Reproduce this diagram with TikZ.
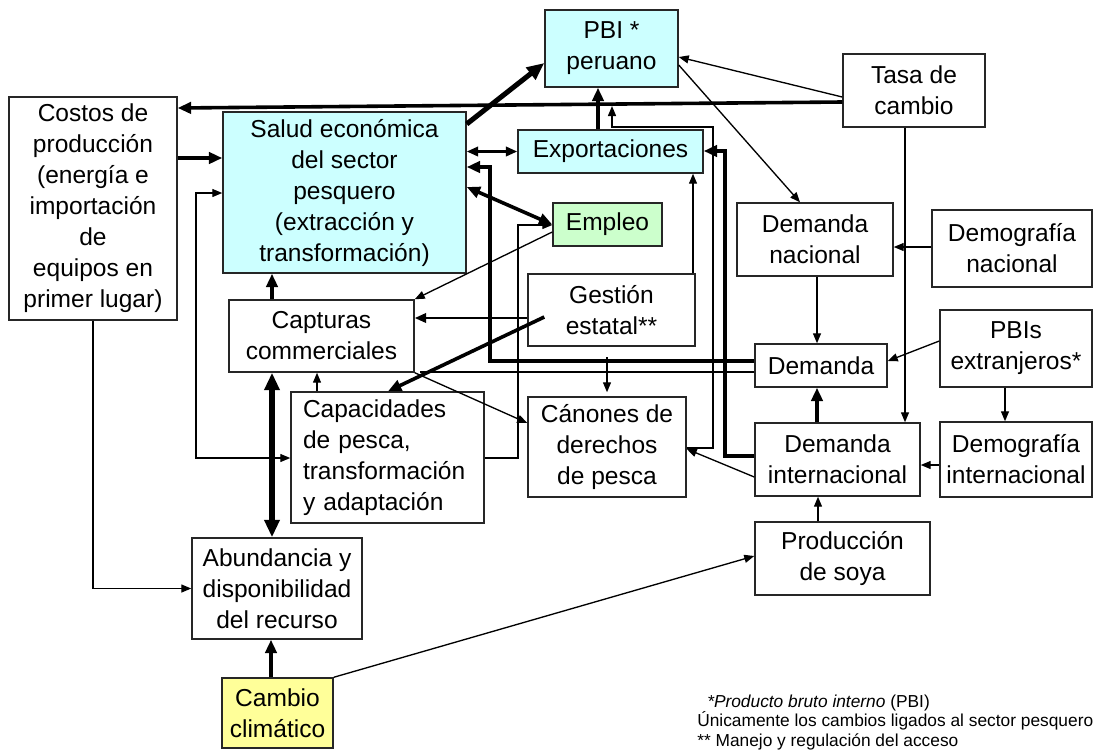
\documentclass[tikz,border=0pt]{standalone}
\usepackage{fontspec}
\setmainfont{Liberation Sans}
\usetikzlibrary{arrows.meta,calc}
\definecolor{cyanbox}{HTML}{CCFFFF}
\definecolor{greenbox}{HTML}{CCFFCC}
\definecolor{yellowbox}{HTML}{FFFF99}
\newcommand{\boxfont}{\fontsize{18.4}{23.25}\selectfont}
\newcommand{\notefont}{\fontsize{13}{14.5}\selectfont}

\begin{document}
\begin{tikzpicture}[x=0.75pt,y=-0.75pt,
  box/.style={draw=black!85, line width=1.1pt, fill=white, inner sep=0pt,
              align=center, font=\boxfont},
  sz/.style n args={2}{minimum width=#1*0.75pt, minimum height=#2*0.75pt},
  lnA/.style={line width=1pt, >={Triangle[length=7.5pt,width=6pt]}},
  lnB/.style={line width=1.9pt, >={Triangle[length=8.5pt,width=7pt]}},
  lnC/.style={line width=2.7pt, >={Triangle[length=10pt,width=8.5pt]}},
  lnD/.style={line width=3.8pt, >={Triangle[length=13pt,width=11pt]}},
  note/.style={anchor=base west, inner sep=0pt, font=\notefont}
]
\useasboundingbox (0,0) rectangle (1099,751);

% boxes
\node[box, fill=cyanbox, sz={133}{77}] (pbi) at (611.5,48.5) {PBI *\\peruano};
\node[box, sz={142}{73}] (tasa) at (914,90.5) {Tasa de\\cambio};
\node[box, sz={168}{223}] (costos) at (93,208.5)
  {Costos de\\producción\\(energía e\\importación\\de\\equipos en\\primer lugar)};
\node[box, fill=cyanbox, sz={243}{161}] (salud) at (344.5,192.5)
  {Salud económica\\del sector\\pesquero\\(extracción y\\transformación)};
\node[box, fill=cyanbox, sz={185}{43}] (export) at (610.5,151.5) {Exportaciones};
\node[box, fill=greenbox, sz={109}{43}] (empleo) at (607.5,224.5) {Empleo};
\node[box, sz={167}{72}] (gestion) at (611.5,310) {Gestión\\estatal**};
\node[box, sz={185}{72}] (capt) at (321.5,336) {Capturas\\commerciales};
\node[box, align=left, text width=169*0.75pt, inner xsep=9pt, minimum height=131*0.75pt]
  (capac) at (387.5,457.5) {Capacidades\\de pesca,\\transformación\\y adaptación};
\node[box, sz={158}{100}] (canones) at (607,447) {Cánones de\\derechos\\de pesca};
\node[box, sz={170}{101}] (abund) at (277,588.5) {Abundancia y\\disponibilidad\\del recurso};
\node[box, fill=yellowbox, sz={111}{70}] (cambio) at (277.5,713) {Cambio\\climático};
\node[box, sz={156}{73}] (dnac) at (815,239.5) {Demanda\\nacional};
\node[box, sz={160}{77}] (demognac) at (1012,248.5) {Demografía\\nacional};
\node[box, sz={152}{77}] (pbiext) at (1016,348.5) {PBIs\\extranjeros*};
\node[box, sz={132}{43}] (demanda) at (821,365.5) {Demanda};
\node[box, sz={165}{73}] (dint) at (837.5,459.5) {Demanda\\internacional};
\node[box, sz={152}{75}] (demogint) at (1016,459.5) {Demografía\\internacional};
\node[box, sz={175}{73}] (prod) at (842.5,558.5) {Producción\\de soya};

% free ends of connectors
\coordinate (pbitap) at (612,106);
\coordinate (jn) at (420,372);

% connectors
\draw[lnC,->] (tasa.west |- 0,102) -- (costos.east |- 0,108);
\draw[lnA,->] (tasa.west |- 0,97) -- (pbi.east |- 0,57);
\draw[lnA,->] (pbi.east |- 0,65) -- (dnac.north -| 800,0);
\draw[lnA,->] (tasa.south -| 905,0) -- (dint.north -| 905,0);
\draw[lnD,->] (salud.east |- 0,124) -- (pbi.west |- 0,63);
\draw[lnC,->] (export.north -| 598,0) -- (pbi.south -| 598,0);
\draw[lnB,<->] (salud.east |- export.west) -- (export.west);
\draw[lnC,<->] (salud.east |- 0,187) -- (empleo.west);
\draw[lnC,->] (costos.east |- 0,158) -- (salud.west |- 0,158);
\draw[lnA,<->] (salud.west |- 0,193) -| (196,458) -- (capac.west |- 0,458);
\draw[lnC,->] (capt.north -| 272,0) -- (salud.south -| 272,0);
\draw[lnD,<->] (capt.south -| 272,0) -- (abund.north -| 272,0);
\draw[lnA,->] (capac.north -| 317,0) -- (capt.south -| 317,0);
\draw[lnA,->] (costos.south) |- (abund.west);
\draw[lnC,->] (cambio.north -| 271,0) -- (abund.south -| 271,0);
\draw[lnA,->] (cambio.north east) -- (prod.west |- 0,556);
\draw[lnA,->] (prod.north -| 818,0) -- (dint.south -| 818,0);
\draw[lnA,->] (demogint.west |- 0,465) -- (dint.east |- 0,465);
\draw[lnA,->] (pbiext.south -| 1005,0) -- (demogint.north -| 1005,0);
\draw[lnA,->] (pbiext.west |- 0,341) -- (demanda.east |- 0,361);
\draw[lnA,->] (demognac.west |- 0,247) -- (dnac.east |- 0,247);
\draw[lnA,->] (dnac.south -| 817,0) -- (demanda.north -| 817,0);
\draw[lnC,->] (dint.north -| 817,0) -- (demanda.south -| 817,0);
\draw[lnA,->] (dint.west |- 0,477) -- (canones.east |- 0,449);
\draw[lnC,->] (dint.west |- 0,456) -| (725,151) -- (export.east |- 0,151);
\draw[lnC,->] (demanda.west |- 0,361) -| (490,167) -- (salud.east |- 0,167);
\draw[lnB] (demanda.west |- 0,372) -- (jn);
\draw[lnB,->] (gestion.west |- 0,318) -- (capt.east |- 0,318);
\draw[lnC,->] ($(gestion.west)+(17,7)$) -- (capac.north -| 388,0);
\draw[lnA,->] (capac.east |- 0,458) -| (518,225) -- (empleo.west |- 0,225);
\draw[lnA,->] (empleo.west |- 0,232) -- (capt.north east);
\draw[lnA,->] (gestion.north -| 693,0) -- (export.south -| 693,0);
\draw[lnA,->] (canones.east |- 0,448) -| (713,127) -| (pbitap);
\draw[lnA,->,shorten <=8pt,shorten >=3pt] (gestion.south -| 607,0) -- (canones.north -| 607,0);
\draw[lnA,->] (capt.south east) -- (canones.west |- 0,423);

% footnotes
\node[note] (n1) at (707,707) {\textit{*Producto bruto interno} (PBI)};
\node[note] (n2) at (697,726) {Únicamente los cambios ligados al sector pesquero};
\node[note] (n3) at (697,746) {** Manejo y regulación del acceso};
\end{tikzpicture}
\end{document}
